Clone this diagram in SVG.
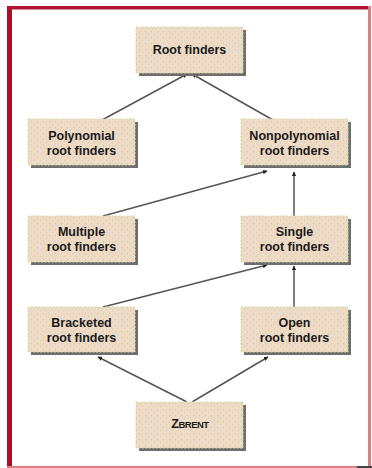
<svg xmlns="http://www.w3.org/2000/svg" width="372" height="468" viewBox="0 0 372 468">
  <style>
    .shadow { fill: #6e6e6e; }
    .box { fill: url(#speckle); stroke: #d6d8a8; stroke-width: 1; stroke-dasharray: 2 1.5; }
    .label { font-family: "Liberation Sans", Arial, sans-serif; font-weight: bold; font-size: 12.5px; fill: #1a1a1a; text-anchor: middle; }
    .edge { stroke: #555; stroke-width: 1.5; fill: none; marker-end: url(#tip); }
  </style>
  <defs>
    <pattern id="speckle" width="6" height="6" patternUnits="userSpaceOnUse">
      <rect width="6" height="6" fill="#efdac8"/>
      <rect x="1" y="1" width="1" height="1.5" fill="#cdd3a0"/>
      <rect x="4" y="3.5" width="1" height="1.5" fill="#d3d6a8"/>
    </pattern>
    <marker id="tip" viewBox="0 0 6 6" refX="5.5" refY="3" markerWidth="3" markerHeight="3" markerUnits="strokeWidth" orient="auto">
      <path d="M0,0 L6,3 L0,6 z" fill="#222"/>
    </marker>
  </defs>

  <rect width="372" height="468" fill="#ffffff"/>

  <!-- frame -->
  <rect x="7" y="6" width="5" height="462" fill="#a80f28"/>
  <rect x="7" y="6" width="364" height="3.5" fill="#b01232"/>
  <rect x="368" y="6" width="3" height="462" fill="#d9807f"/>
  <rect x="7" y="466" width="364" height="2" fill="#d9807f"/>
  <rect x="357" y="466" width="15" height="2" fill="#444"/>

  <!-- connectors -->
  <g id="connectors">
    <line class="edge" x1="102" y1="120" x2="187" y2="74"/>
    <line class="edge" x1="273" y1="120" x2="192" y2="74"/>
    <line class="edge" x1="103" y1="216" x2="267" y2="171"/>
    <line class="edge" x1="294" y1="216" x2="294" y2="172"/>
    <line class="edge" x1="103" y1="307" x2="267" y2="265"/>
    <line class="edge" x1="294" y1="307" x2="294" y2="266"/>
    <line class="edge" x1="187" y1="402" x2="98" y2="357"/>
    <line class="edge" x1="192" y1="402" x2="268" y2="357"/>
  </g>

  <g id="root">
    <rect class="shadow" x="139" y="30" width="107" height="46"/>
    <rect class="box" x="136" y="27" width="107" height="46"/>
    <text class="label" x="189.5" y="54">Root finders</text>
  </g>

  <g id="polynomial">
    <rect class="shadow" x="31" y="122" width="107" height="46"/>
    <rect class="box" x="28" y="119" width="107" height="46"/>
    <text class="label" x="81.5" y="140">Polynomial</text>
    <text class="label" x="81.5" y="155">root finders</text>
  </g>

  <g id="nonpolynomial">
    <rect class="shadow" x="244" y="122" width="107" height="46"/>
    <rect class="box" x="241" y="119" width="107" height="46"/>
    <text class="label" x="294.5" y="140">Nonpolynomial</text>
    <text class="label" x="294.5" y="155">root finders</text>
  </g>

  <g id="multiple">
    <rect class="shadow" x="31" y="219" width="107" height="46"/>
    <rect class="box" x="28" y="216" width="107" height="46"/>
    <text class="label" x="81.5" y="236">Multiple</text>
    <text class="label" x="81.5" y="251">root finders</text>
  </g>

  <g id="single">
    <rect class="shadow" x="244" y="219" width="107" height="46"/>
    <rect class="box" x="241" y="216" width="107" height="46"/>
    <text class="label" x="294.5" y="236">Single</text>
    <text class="label" x="294.5" y="251">root finders</text>
  </g>

  <g id="bracketed">
    <rect class="shadow" x="31" y="310" width="107" height="45"/>
    <rect class="box" x="28" y="307" width="107" height="45"/>
    <text class="label" x="81.5" y="327">Bracketed</text>
    <text class="label" x="81.5" y="342">root finders</text>
  </g>

  <g id="open">
    <rect class="shadow" x="244" y="310" width="107" height="45"/>
    <rect class="box" x="241" y="307" width="107" height="45"/>
    <text class="label" x="294.5" y="327">Open</text>
    <text class="label" x="294.5" y="342">root finders</text>
  </g>

  <g id="zbrent">
    <rect class="shadow" x="139" y="405" width="107" height="46"/>
    <rect class="box" x="136" y="402" width="107" height="46"/>
    <text class="label" x="190" y="428" style="letter-spacing:-0.5px">Z<tspan font-size="9.5px">BRENT</tspan></text>
  </g>
</svg>
